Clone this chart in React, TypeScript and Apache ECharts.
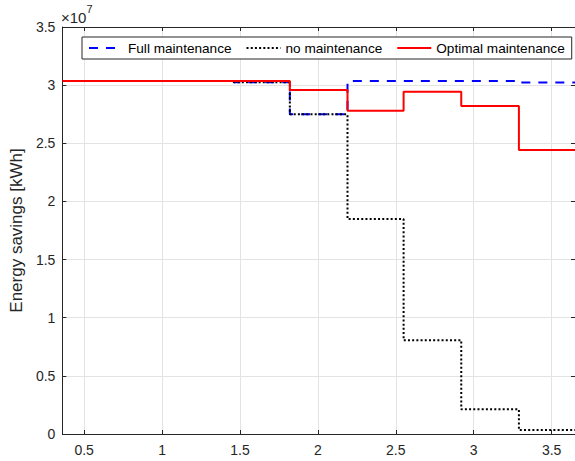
import React, { useEffect, useRef } from "react";
import * as echarts from "echarts";

// Step boundaries (x) — each value holds from its x until the next x
const stepX = [0.36, 0.73, 1.1, 1.46, 1.82, 2.19, 2.55, 2.92, 3.29, 3.65];
// Energy savings in kWh per interval (last value repeated for the closing edge)
const fullMaintenance = [3.035e7, 3.035e7, 3.035e7, 3.025e7, 2.749e7, 3.035e7, 3.035e7, 3.035e7, 3.022e7, 3.022e7];
const noMaintenance = [3.035e7, 3.035e7, 3.035e7, 3.025e7, 2.749e7, 1.849e7, 0.806e7, 0.212e7, 0.034e7, 0.034e7];
const optimalMaintenance = [3.035e7, 3.035e7, 3.035e7, 3.035e7, 2.958e7, 2.78e7, 2.943e7, 2.82e7, 2.442e7, 2.442e7];
const seriesNames = ["Full maintenance", "no maintenance", "Optimal maintenance"];

const FONT = "'Liberation Sans', Arial, sans-serif";
const AX = "#262626";

export default function App() {
  const ref = useRef<HTMLDivElement>(null);
  useEffect(() => {
    if (!ref.current) return;
    const chart = echarts.init(ref.current, null, { renderer: "svg" });
    const pts = (vals: number[]) => stepX.map((x, i) => [x, vals[i]]);
    const xCommon = {
      type: "value" as const,
      min: 0.36,
      max: 3.65,
      splitNumber: 7,
      minInterval: 0.5,
      maxInterval: 0.5,
    };
    const yCommon = {
      type: "value" as const,
      min: 0,
      max: 3.5e7,
      interval: 0.5e7,
    };
    chart.setOption({
      animation: false,
      textStyle: { fontFamily: FONT },
      grid: { left: 59, top: 27, right: 0, bottom: 27, show: false },
      legend: {
        left: 82,
        top: 37,
        itemWidth: 34,
        itemHeight: 12,
        itemGap: 14,
        padding: [4, 7, 4, 6],
        backgroundColor: "#fff",
        borderColor: AX,
        borderWidth: 1,
        borderRadius: 0,
        itemStyle: { opacity: 0 },
        textStyle: { fontFamily: FONT, fontSize: 13.6, color: "#000" },
        data: seriesNames,
      },
      xAxis: [
        {
          ...xCommon,
          position: "bottom",
          axisLine: { show: true, lineStyle: { color: AX, width: 1 } },
          axisTick: { show: true, inside: true, length: 4, lineStyle: { color: AX } },
          axisLabel: {
            showMinLabel: false,
            showMaxLabel: false,
            color: AX,
            fontSize: 14,
            fontFamily: FONT,
            margin: 9,
          },
          splitLine: { show: true, lineStyle: { color: "#e3e3e3", width: 1 } },
        },
        {
          ...xCommon,
          position: "top",
          axisLine: { show: true, onZero: false, lineStyle: { color: AX, width: 1 } },
          axisTick: { show: true, inside: true, length: 4, lineStyle: { color: AX } },
          axisLabel: { show: false },
          splitLine: { show: false },
        },
      ],
      yAxis: [
        {
          ...yCommon,
          position: "left",
          name: "Energy savings [kWh]",
          nameLocation: "middle",
          nameGap: 35,
          nameTextStyle: { fontSize: 17, color: AX, fontFamily: FONT },
          axisLine: { show: true, lineStyle: { color: AX, width: 1 } },
          axisTick: { show: true, inside: true, length: 4, lineStyle: { color: AX } },
          axisLabel: {
            color: AX,
            fontSize: 14,
            fontFamily: FONT,
            margin: 7,
            formatter: (v: number) => String(Math.round((v / 1e7) * 10) / 10),
          },
          splitLine: { show: true, lineStyle: { color: "#e3e3e3", width: 1 } },
        },
        {
          ...yCommon,
          position: "right",
          axisLine: { show: true, onZero: false, lineStyle: { color: AX, width: 1 } },
          axisTick: { show: true, inside: true, length: 4, lineStyle: { color: AX } },
          axisLabel: { show: false },
          splitLine: { show: false },
        },
      ],
      graphic: [
        {
          type: "text",
          left: 61,
          top: 3,
          style: {
            text: "{a|×10}{b|7}",
            rich: {
              a: { fontSize: 15, fontFamily: FONT, fill: AX, verticalAlign: "bottom", lineHeight: 22 },
              b: { fontSize: 11, fontFamily: FONT, fill: AX, verticalAlign: "top", lineHeight: 12 },
            },
          },
        },
      ],
      series: [
        {
          name: seriesNames[0],
          type: "line",
          step: "end",
          xAxisIndex: 0,
          yAxisIndex: 0,
          symbol: "none",
          data: pts(fullMaintenance),
          lineStyle: { color: "#0000ff", width: 2, type: [9, 8] },
          itemStyle: { color: "#0000ff" },
          z: 2,
        },
        {
          name: seriesNames[1],
          type: "line",
          step: "end",
          xAxisIndex: 0,
          yAxisIndex: 0,
          symbol: "none",
          data: pts(noMaintenance),
          lineStyle: { color: "#000000", width: 2, type: [2, 2.2] },
          itemStyle: { color: "#000000" },
          z: 3,
        },
        {
          name: seriesNames[2],
          type: "line",
          step: "end",
          xAxisIndex: 0,
          yAxisIndex: 0,
          symbol: "none",
          data: pts(optimalMaintenance),
          lineStyle: { color: "#ff0000", width: 2 },
          itemStyle: { color: "#ff0000" },
          z: 4,
        },
      ],
    });
    return () => chart.dispose();
  }, []);
  return (
    <div
      ref={ref}
      style={{ position: "absolute", left: 0, top: 0, width: 575, height: 461, background: "#fff" }}
    />
  );
}
